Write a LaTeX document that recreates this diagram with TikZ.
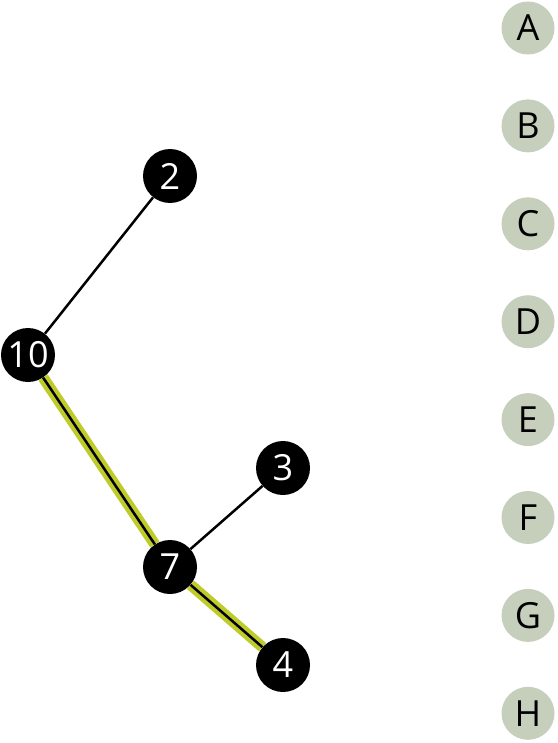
\documentclass[tikz,border=0pt]{standalone}
\usepackage{fontspec}
\setmainfont{Open Sans}
\definecolor{sage}{RGB}{197,207,188}
\definecolor{hilite}{RGB}{190,203,40}
\begin{document}
\begin{tikzpicture}[x=1pt,y=-1pt,
  vtx/.style={circle,fill=black,text=white,minimum size=54pt,inner sep=0pt,font=\fontsize{36}{36}\selectfont},
  lbl/.style={circle,fill=sage,text=black,minimum size=53pt,inner sep=0pt,font=\fontsize{36}{36}\selectfont},
  edge/.style={line width=2.5pt,black},
  hl/.style={line width=11pt,hilite}]
\useasboundingbox (0,0) rectangle (557,743);
\node[vtx] (n2) at (170,176) {2};
\node[vtx] (n10) at (28,355) {10};
\node[vtx] (n3) at (283,468) {3};
\node[vtx] (n7) at (170,567) {7};
\node[vtx] (n4) at (283,665) {4};
\draw[hl] (n10) -- (n7);
\draw[hl] (n7) -- (n4);
\draw[edge] (n10) -- (n2);
\draw[edge] (n10) -- (n7);
\draw[edge] (n7) -- (n3);
\draw[edge] (n7) -- (n4);
\foreach \t [count=\i from 0] in {A,B,C,D,E,F,G,H} {
  \node[lbl] (l\t) at (528,{28+97.9*\i}) {\t};
}
\end{tikzpicture}
\end{document}
